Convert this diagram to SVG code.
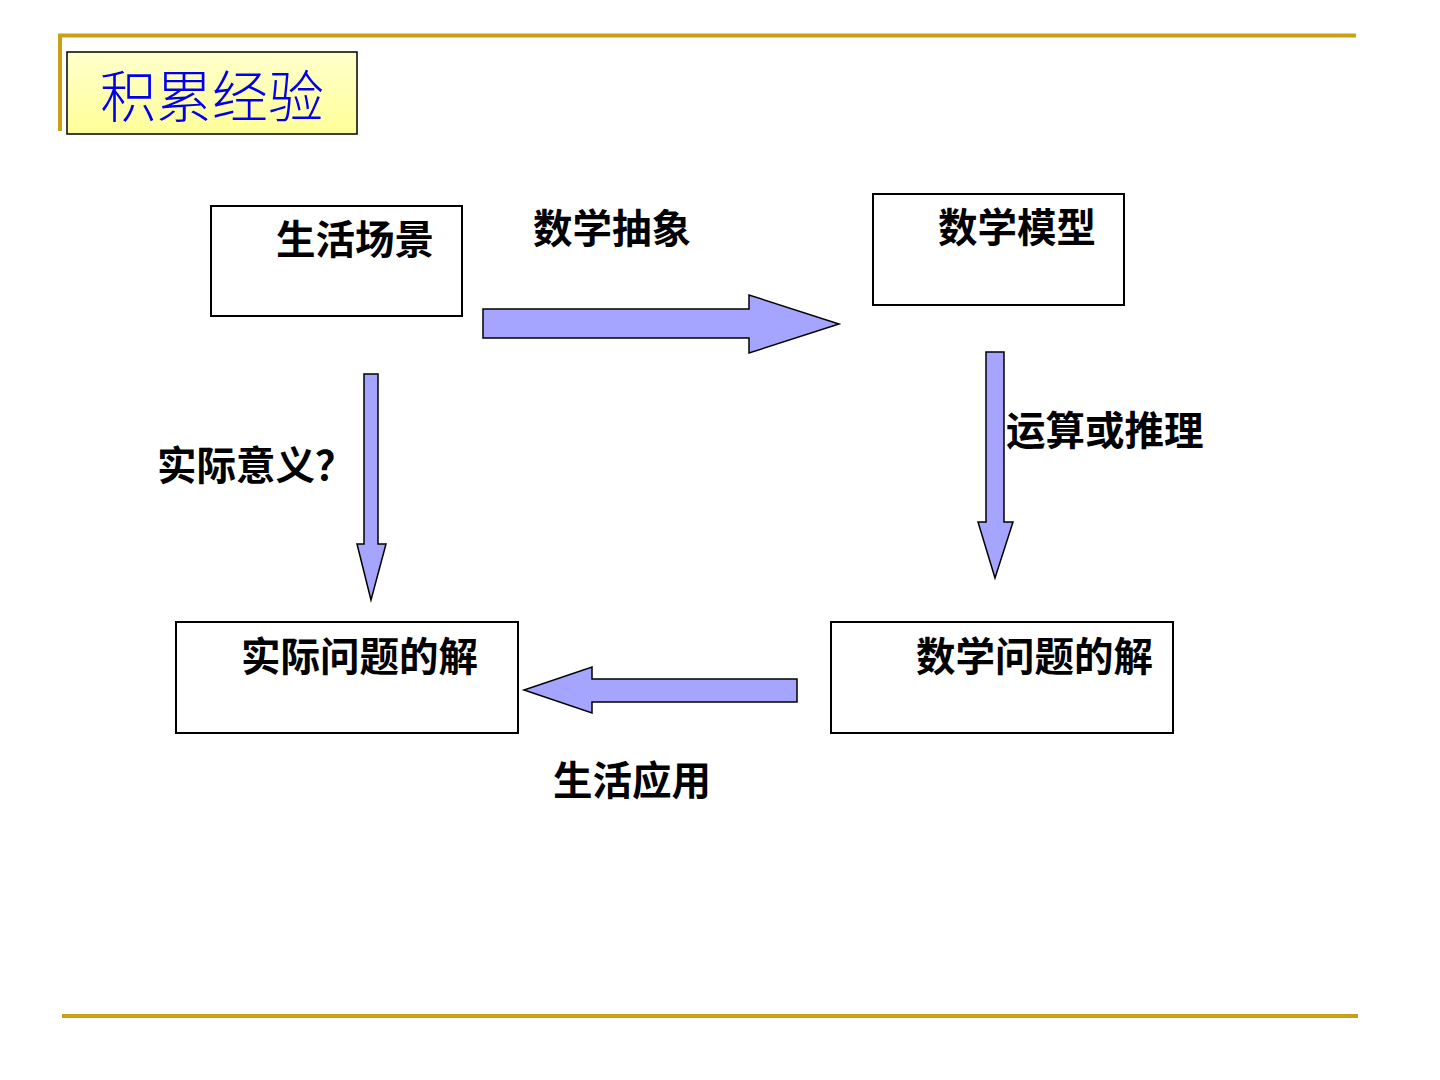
<svg xmlns="http://www.w3.org/2000/svg" width="1440" height="1080" viewBox="0 0 1440 1080">
<defs>
<linearGradient id="tg" x1="0" y1="0" x2="0" y2="1">
<stop offset="0" stop-color="#ffffcc"/>
<stop offset="1" stop-color="#ffff99"/>
</linearGradient>
<style>
.box{fill:#ffffff;stroke:#000000;stroke-width:2}
.arr{fill:#a5a5ff;stroke:#000000;stroke-width:1.5;stroke-linejoin:miter}
.lbl{font-family:"Noto Sans CJK SC","Noto Sans CJK JP",sans-serif;font-size:39.5px;font-weight:bold;fill:#000000}
.gold{stroke:#c9a016;stroke-width:4;fill:none}
</style>
</defs>
<rect width="1440" height="1080" fill="#ffffff"/>
<g id="frame">
<line class="gold" x1="58" y1="35.5" x2="1356" y2="35.5"/>
<line class="gold" x1="60" y1="35" x2="60" y2="131"/>
<line class="gold" x1="62" y1="1016" x2="1358" y2="1016"/>
</g>
<g id="title">
<rect x="67" y="52" width="290" height="82" fill="url(#tg)" stroke="#000000" stroke-width="1.5"/>
<text x="212" y="117" text-anchor="middle" font-family="Noto Sans CJK SC, sans-serif" font-size="56" font-weight="300" fill="#0000ee">积累经验</text>
</g>
<g id="connectors">
<polygon class="arr" points="483,309 749,309 749,295 839,324 749,353 749,338 483,338"/>
<polygon class="arr" points="364,374 378,374 378,544 386,544 371,600 357,544 364,544"/>
<polygon class="arr" points="986,352 1004,352 1004,522 1013,522 995,578 978,522 986,522"/>
<polygon class="arr" points="797,679 592,679 592,667 524,690 592,713 592,702 797,702"/>
<text class="lbl" x="533" y="243">数学抽象</text>
<text class="lbl" x="1006" y="445">运算或推理</text>
<text class="lbl" x="157" y="480">实际意义？</text>
<text class="lbl" x="553" y="795">生活应用</text>
</g>
<g id="node-shenghuo">
<rect class="box" x="211" y="206" width="251" height="110"/>
<text class="lbl" x="276" y="254">生活场景</text>
</g>
<g id="node-moxing">
<rect class="box" x="873" y="194" width="251" height="111"/>
<text class="lbl" x="938" y="242">数学模型</text>
</g>
<g id="node-shiji">
<rect class="box" x="176" y="622" width="342" height="111"/>
<text class="lbl" x="241" y="671">实际问题的解</text>
</g>
<g id="node-shuxue">
<rect class="box" x="831" y="622" width="342" height="111"/>
<text class="lbl" x="916" y="671">数学问题的解</text>
</g>
</svg>
